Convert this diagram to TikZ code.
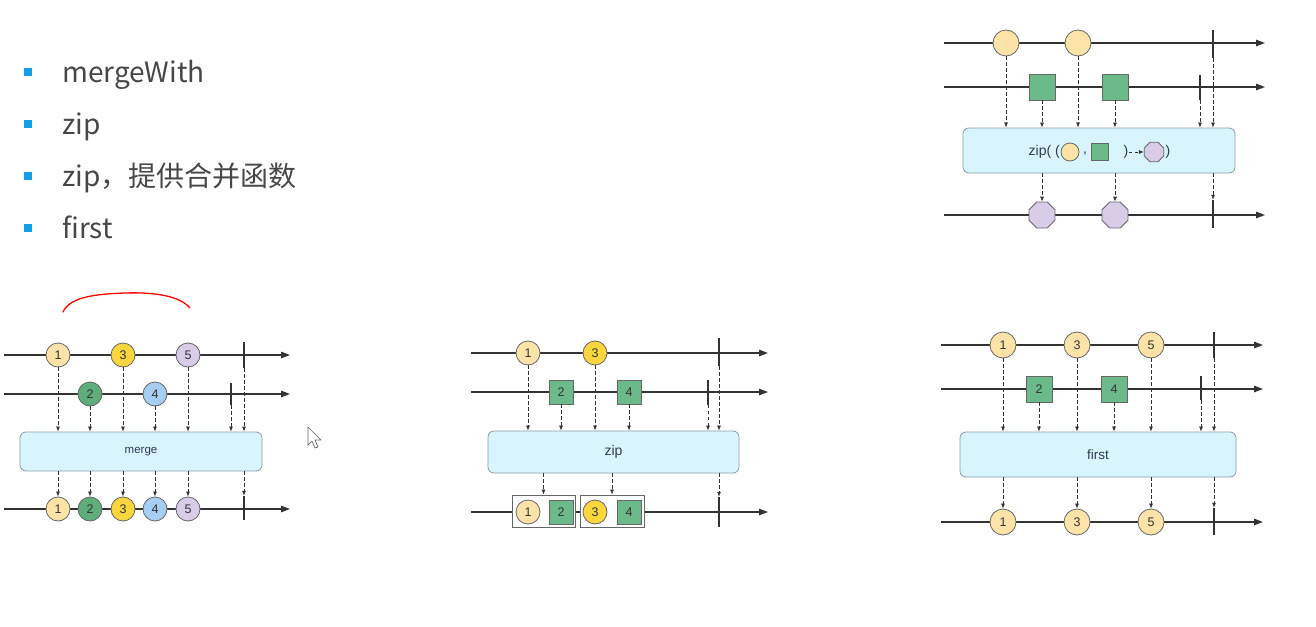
\documentclass[tikz,border=0pt]{standalone}
\usepackage{fontspec}
\setmainfont{Noto Sans CJK SC}
\newfontfamily\diagfont{Liberation Sans}
\usetikzlibrary{shapes.geometric,arrows.meta}
\definecolor{pale}{HTML}{FDE3A7}
\definecolor{gold}{HTML}{F9D53E}
\definecolor{lilac}{HTML}{D8CCE9}
\definecolor{leaf}{HTML}{6CB98A}
\definecolor{moss}{HTML}{5EAD7B}
\definecolor{sky}{HTML}{A6CDF2}
\definecolor{boxfill}{HTML}{D8F5FD}
\definecolor{boxline}{HTML}{8A9BA6}
\definecolor{bullet}{HTML}{11A0E6}
\definecolor{ink}{HTML}{333333}
\definecolor{rim}{HTML}{666666}
\definecolor{opink}{HTML}{2E3B55}

\begin{document}
\begin{tikzpicture}
[x=1pt, y=-1pt, every node/.style={inner sep=0pt},
 marble/.style={circle, minimum size=24pt, draw=rim, line width=0.8pt, text=ink, font=\diagfont\fontsize{12.5}{12.5}\selectfont},
 tile/.style={rectangle, minimum size=24pt, fill=leaf, draw=rim, line width=0.8pt, text=ink, font=\diagfont\fontsize{12.5}{12.5}\selectfont},
 octa/.style={regular polygon, regular polygon sides=8, minimum size=28pt, fill=lilac, draw=rim, line width=0.8pt},
 opbox/.style={rectangle, rounded corners=6pt, fill=boxfill, draw=boxline, line width=0.8pt, text=opink},
 pairbox/.style={rectangle, fill=white, draw=rim, line width=0.8pt},
 tick/.style={rectangle, fill=ink, minimum width=1.8pt, minimum height=26pt},
 flow/.style={ink, line width=0.75pt, dash pattern=on 3.5pt off 2.5pt, -{Latex[length=5pt,width=4pt]}},
 axis/.style={ink, line width=1.3pt, -{Triangle[length=9pt,width=6.5pt]}},
 dot/.style={rectangle, fill=bullet, minimum size=8pt},
 item/.style={anchor=base west, text=ink!90, font=\fontsize{28}{28}\selectfont}]
\useasboundingbox (0,0) rectangle (1316,626);

\node (s1) [dot] at (28,72) {};
\node (s2) [dot] at (28,124) {};
\node (s3) [dot] at (28,176) {};
\node (s4) [dot] at (28,228) {};
\node (b1) [item] at (62,82) {mergeWith};
\node (b2) [item] at (62,134) {zip};
\node (b3) [item] at (62,186) {zip，提供合并函数};
\node (b4) [item] at (62,238) {first};

\draw [red, line width=1.3pt, line cap=round] (63,312) .. controls (70,297) and (95,294) .. (125,293) .. controls (155,292) and (180,296) .. (190,308);
\draw [rim, fill=white, line width=0.7pt, line join=round] (308,427) -- (308,445) -- (312,441) -- (315,448) -- (318,447) -- (315,440) -- (321,440) -- cycle;

\coordinate (ma) at (4,355);
\coordinate (mb) at (290,355);
\coordinate (mc) at (4,394);
\coordinate (md) at (290,394);
\coordinate (me) at (4,509);
\coordinate (mf) at (290,509);
\draw [axis] (ma) -- (mb);
\draw [axis] (mc) -- (md);
\draw [axis] (me) -- (mf);
\node (m1) [marble, fill=pale] at (58,355) {1};
\node (m3) [marble, fill=gold] at (123,355) {3};
\node (m5) [marble, fill=lilac] at (188,355) {5};
\node (mt1) [tick] at (244,355) {};
\node (m2) [marble, fill=moss] at (90,394) {2};
\node (m4) [marble, fill=sky] at (155,394) {4};
\node (mt2) [tick, minimum height=22pt] at (231,394) {};
\node (merge) [opbox, minimum width=242pt, minimum height=39pt, font=\diagfont\fontsize{11.5}{11.5}\selectfont] at (141,451.5) {merge};
\node (n1) [marble, fill=pale] at (58,509) {1};
\node (n2) [marble, fill=moss] at (90,509) {2};
\node (n3) [marble, fill=gold] at (123,509) {3};
\node (n4) [marble, fill=sky] at (155,509) {4};
\node (n5) [marble, fill=lilac] at (188,509) {5};
\node (nt) [tick, minimum height=24pt] at (244,508) {};
\draw [flow] (m1) -- (m1 |- merge.north);
\draw [flow] (m2) -- (m2 |- merge.north);
\draw [flow] (m3) -- (m3 |- merge.north);
\draw [flow] (m4) -- (m4 |- merge.north);
\draw [flow] (m5) -- (m5 |- merge.north);
\draw [flow] (mt2) -- (mt2 |- merge.north);
\draw [flow] (mt1) -- (mt1 |- merge.north);
\draw [flow] (merge.south -| n1) -- (n1);
\draw [flow] (merge.south -| n2) -- (n2);
\draw [flow] (merge.south -| n3) -- (n3);
\draw [flow] (merge.south -| n4) -- (n4);
\draw [flow] (merge.south -| n5) -- (n5);
\draw [flow] (merge.south -| nt) -- (nt);

\coordinate (za) at (471,353);
\coordinate (zb) at (768,353);
\coordinate (zc) at (471,392);
\coordinate (zd) at (768,392);
\coordinate (ze) at (471,512);
\coordinate (zf) at (768,512);
\draw [axis] (za) -- (zb);
\draw [axis] (zc) -- (zd);
\draw [axis] (ze) -- (zf);
\node (z1) [marble, fill=pale] at (528,353) {1};
\node (z3) [marble, fill=gold] at (595,353) {3};
\node (zt1) [tick, minimum height=28pt] at (719,352) {};
\node (z2) [tile] at (561,392) {2};
\node (z4) [tile] at (629,392) {4};
\node (zt2) [tick, minimum height=25pt] at (708,392) {};
\node (zip) [opbox, minimum width=251pt, minimum height=42pt, font=\diagfont\fontsize{14}{14}\selectfont] at (613.5,452) {zip};
\node (g1) [pairbox, minimum width=63pt, minimum height=32pt] at (543.5,511) {};
\node (g2) [pairbox, minimum width=64pt, minimum height=32pt] at (612,511) {};
\node (y1) [marble, fill=pale] at (528,512) {1};
\node (y2) [tile] at (561,512) {2};
\node (y3) [marble, fill=gold] at (595,512) {3};
\node (y4) [tile] at (629,512) {4};
\node (zt3) [tick, minimum height=30pt] at (719,512) {};
\draw [flow] (z1) -- (z1 |- zip.north);
\draw [flow] (z2) -- (z2 |- zip.north);
\draw [flow] (z3) -- (z3 |- zip.north);
\draw [flow] (z4) -- (z4 |- zip.north);
\draw [flow] (zt2) -- (zt2 |- zip.north);
\draw [flow] (zt1) -- (zt1 |- zip.north);
\draw [flow] (zip.south -| g1) -- (g1);
\draw [flow] (zip.south -| g2) -- (g2);
\draw [flow] (zip.south -| zt3) -- (zt3);

\coordinate (ka) at (944,43);
\coordinate (kb) at (1265,43);
\coordinate (kc) at (944,87);
\coordinate (kd) at (1265,87);
\coordinate (ke) at (944,215);
\coordinate (kf) at (1265,215);
\draw [axis] (ka) -- (kb);
\draw [axis] (kc) -- (kd);
\draw [axis] (ke) -- (kf);
\node (k1) [marble, minimum size=26pt, fill=pale] at (1006,43) {};
\node (k3) [marble, minimum size=26pt, fill=pale] at (1078,43) {};
\node (kt1) [tick, minimum height=28pt] at (1213,44) {};
\node (k2) [tile, minimum size=26pt] at (1042,87) {};
\node (k4) [tile, minimum size=26pt] at (1115,87) {};
\node (kt2) [tick, minimum height=25pt] at (1200,87.5) {};
\node (zipf) [opbox, minimum width=272pt, minimum height=45pt] at (1099,150.5) {};
\node (f1) [anchor=east, text=opink, font=\diagfont\fontsize{14}{14}\selectfont] at (1060,152) {zip( (};
\node (f2) [marble, minimum size=18pt, fill=pale] at (1070,152) {};
\node (f3) [text=opink, font=\diagfont\fontsize{14}{14}\selectfont] at (1085,154) {,};
\node (f4) [tile, minimum size=17pt] at (1100,152) {};
\node (f5) [text=opink, font=\diagfont\fontsize{14}{14}\selectfont] at (1126,152) {)};
\node (f6) [octa, minimum size=21pt] at (1154,152) {};
\node (f7) [text=opink, font=\diagfont\fontsize{14}{14}\selectfont] at (1168,152) {)};
\draw [flow] (f5) -- (f6);
\node (h2) [octa] at (1042,215) {};
\node (h4) [octa] at (1115,215) {};
\node (kt3) [tick, minimum height=28pt] at (1213,214) {};
\draw [flow] (k1) -- (k1 |- zipf.north);
\draw [flow] (k2) -- (k2 |- zipf.north);
\draw [flow] (k3) -- (k3 |- zipf.north);
\draw [flow] (k4) -- (k4 |- zipf.north);
\draw [flow] (kt2) -- (kt2 |- zipf.north);
\draw [flow] (kt1) -- (kt1 |- zipf.north);
\draw [flow] (zipf.south -| h2) -- (h2);
\draw [flow] (zipf.south -| h4) -- (h4);
\draw [flow] (zipf.south -| kt3) -- (kt3);

\coordinate (pa) at (941,345);
\coordinate (pb) at (1263,345);
\coordinate (pc) at (941,389);
\coordinate (pd) at (1263,389);
\coordinate (pe) at (941,522);
\coordinate (pf) at (1263,522);
\draw [axis] (pa) -- (pb);
\draw [axis] (pc) -- (pd);
\draw [axis] (pe) -- (pf);
\node (p1) [marble, minimum size=26pt, fill=pale] at (1003,345) {1};
\node (p3) [marble, minimum size=26pt, fill=pale] at (1077,345) {3};
\node (p5) [marble, minimum size=26pt, fill=pale] at (1151,345) {5};
\node (pt1) [tick] at (1214,345) {};
\node (p2) [tile, minimum size=26pt] at (1039,389) {2};
\node (p4) [tile, minimum size=26pt] at (1114,389) {4};
\node (pt2) [tick, minimum height=24pt] at (1201,388) {};
\node (first) [opbox, minimum width=276pt, minimum height=45pt, font=\diagfont\fontsize{13.5}{13.5}\selectfont] at (1098,454.5) {first};
\node (q1) [marble, minimum size=26pt, fill=pale] at (1003,522) {1};
\node (q3) [marble, minimum size=26pt, fill=pale] at (1077,522) {3};
\node (q5) [marble, minimum size=26pt, fill=pale] at (1151,522) {5};
\node (pt3) [tick, minimum height=27pt] at (1214,521.5) {};
\draw [flow] (p1) -- (p1 |- first.north);
\draw [flow] (p2) -- (p2 |- first.north);
\draw [flow] (p3) -- (p3 |- first.north);
\draw [flow] (p4) -- (p4 |- first.north);
\draw [flow] (p5) -- (p5 |- first.north);
\draw [flow] (pt2) -- (pt2 |- first.north);
\draw [flow] (pt1) -- (pt1 |- first.north);
\draw [flow] (first.south -| q1) -- (q1);
\draw [flow] (first.south -| q3) -- (q3);
\draw [flow] (first.south -| q5) -- (q5);
\draw [flow] (first.south -| pt3) -- (pt3);
\end{tikzpicture}
\end{document}
